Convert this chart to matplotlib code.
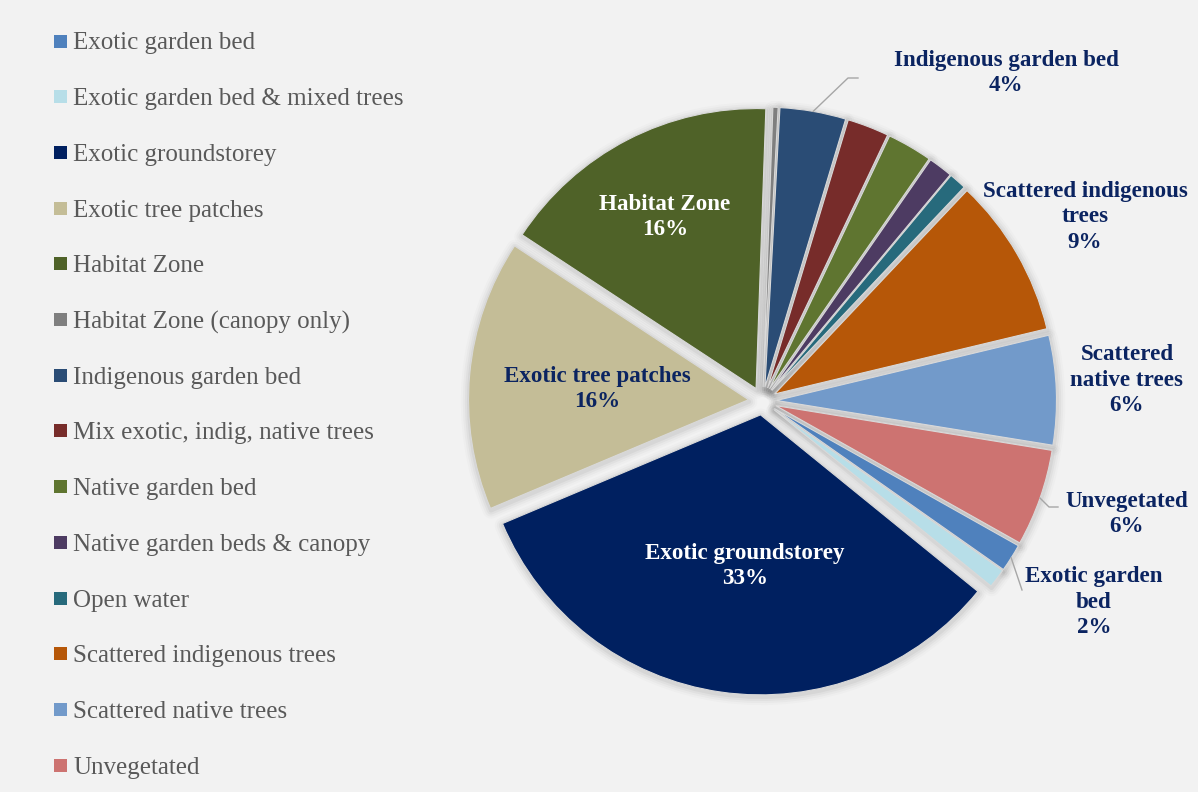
import matplotlib
matplotlib.use("Agg")
import matplotlib.pyplot as plt
from matplotlib.patches import Wedge, Rectangle
import numpy as np

# ---- data -------------------------------------------------------------
categories = [
    "Exotic garden bed",
    "Exotic garden bed & mixed trees",
    "Exotic groundstorey",
    "Exotic tree patches",
    "Habitat Zone",
    "Habitat Zone (canopy only)",
    "Indigenous garden bed",
    "Mix exotic, indig, native trees",
    "Native garden bed",
    "Native garden beds & canopy",
    "Open water",
    "Scattered indigenous trees",
    "Scattered native trees",
    "Unvegetated",
]
shares = [1.6, 1.1, 32.8, 15.6, 16.3, 0.3, 3.8, 2.4, 2.6, 1.4, 1.0, 9.2, 6.3, 5.6]

colors = ["#4F81BD", "#B7DEE8", "#002060", "#C4BD97", "#4F6228", "#7F7F7F",
          "#2A4C75", "#772C2A", "#5F7530", "#4D3B62", "#276A7C", "#B65708",
          "#729ACA", "#CD7371"]

# wrapped names used in the slice labels
label_names = {
    "Exotic garden bed": "Exotic garden\nbed",
    "Exotic groundstorey": "Exotic groundstorey",
    "Exotic tree patches": "Exotic tree patches",
    "Habitat Zone": "Habitat Zone",
    "Indigenous garden bed": "Indigenous garden bed",
    "Scattered indigenous trees": "Scattered indigenous\ntrees",
    "Scattered native trees": "Scattered\nnative trees",
    "Unvegetated": "Unvegetated",
}

# ---- figure (axes in pixel units, y pointing up) -----------------------
W, H = 1198, 792
BG = "#F2F2F2"
NAVY = "#0B2461"
fig = plt.figure(figsize=(W / 100, H / 100), dpi=100, facecolor=BG)
ax = fig.add_axes([0, 0, 1, 1], facecolor=BG)

cx, cy, R = 762.5, H - 401, 280
EXPLOSION = 0.05          # every slice pulled out by 5 % of the radius
total = sum(shares)
# Habitat Zone (5th slice) closes just past twelve o'clock
start = 90 - 2.0 + 360 * sum(shares[:5]) / total

wedges, _ = ax.pie(shares, colors=colors,
                   explode=[EXPLOSION * R] * len(shares),
                   center=(cx, cy), radius=R, startangle=start,
                   counterclock=False, frame=True,
                   wedgeprops=dict(edgecolor="#D9D9D9", linewidth=0.8, zorder=3))

# soft outer shadow under each slice
for w in wedges:
    sx, sy = w.center
    for lw, a in [(12, 0.015), (9, 0.022), (6, 0.03), (3, 0.045)]:
        ax.add_patch(Wedge((sx + 0.5, sy - 2.0), w.r, w.theta1, w.theta2,
                           facecolor="none", edgecolor="k", linewidth=lw,
                           alpha=a, zorder=1, joinstyle="round"))

ax.set_xlim(0, W)
ax.set_ylim(0, H)
ax.set_aspect("equal")
ax.axis("off")

SERIF = ["Liberation Serif", "DejaVu Serif"]


def pct(name):
    return f"{round(shares[categories.index(name)])}%"


def img(x, y):
    return x, H - y


# ---- slice labels -----------------------------------------------------
inside = {
    "Habitat Zone": ((665, 217), "white"),
    "Exotic tree patches": ((597, 389), NAVY),
    "Exotic groundstorey": ((745, 566), "white"),
}
outside = {
    "Indigenous garden bed": (1006, 73),
    "Scattered indigenous trees": (1085, 217),
    "Scattered native trees": (1127, 380),
    "Unvegetated": (1127, 514),
    "Exotic garden bed": (1094, 602),
}
LBL = dict(ha="center", va="center", fontsize=16.6, fontweight="bold",
           family=SERIF, linespacing=1.3, zorder=5)

for name, ((x, y), col) in inside.items():
    ax.text(*img(x, y), f"{label_names[name]}\n{pct(name)}", color=col, **LBL)

for name, (x, y) in outside.items():
    ax.text(*img(x, y), f"{label_names[name]}\n{pct(name)}", color=NAVY, **LBL)


# ---- leader lines -----------------------------------------------------
def rim_point(name):
    w = wedges[categories.index(name)]
    t = np.deg2rad((w.theta1 + w.theta2) / 2)
    return w.center[0] + w.r * np.cos(t), w.center[1] + w.r * np.sin(t)


leaders = {
    "Indigenous garden bed": [(848, 78), (858, 78)],
    "Unvegetated": [(1049, 507), (1058, 507)],
    "Exotic garden bed": [(1022, 590)],
}
for name, pts in leaders.items():
    x0, y0 = rim_point(name)
    xs = [x0] + [p[0] for p in pts]
    ys = [y0] + [H - p[1] for p in pts]
    ax.plot(xs, ys, color="#A6A6A6", linewidth=1.0, zorder=4)

# ---- legend -----------------------------------------------------------
leg_top, leg_step = 41, 55.7
for i, (name, col) in enumerate(zip(categories, colors)):
    yc = H - (leg_top + i * leg_step)
    ax.add_patch(Rectangle((54, yc - 6.5), 13, 13, facecolor=col,
                           edgecolor="none", zorder=5))
    ax.text(73, yc, name, ha="left", va="center_baseline", color="#595959",
            fontsize=18.0, family=SERIF, zorder=5)

fig.savefig("out.png", dpi=100, facecolor=BG)
